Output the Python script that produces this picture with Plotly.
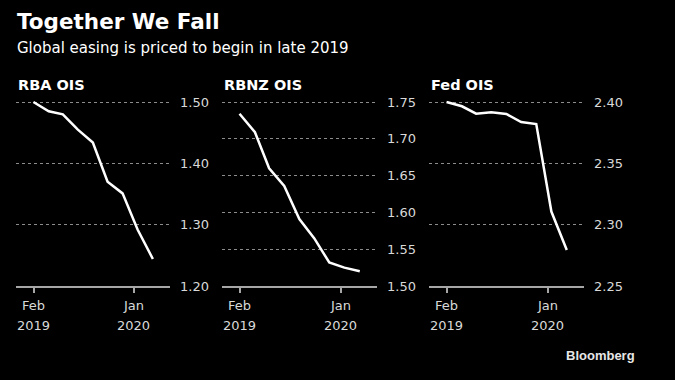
import plotly.graph_objects as go

# ---- data ----
dates = ["2019-01-31", "2019-03-23", "2019-05-09", "2019-06-28", "2019-08-17",
         "2019-10-05", "2019-11-24", "2020-01-13", "2020-03-04"]
rba = [1.500, 1.485, 1.480, 1.455, 1.434, 1.370, 1.351, 1.292, 1.244]
rbnz = [1.734, 1.709, 1.660, 1.636, 1.591, 1.565, 1.532, 1.525, 1.520]
fed = [2.400, 2.3965, 2.3905, 2.3916, 2.3902, 2.3837, 2.382, 2.3107, 2.2794]

panel_titles = ["RBA OIS", "RBNZ OIS", "Fed OIS"]
rba_ticks = [1.20, 1.30, 1.40, 1.50]
rbnz_ticks = [1.50, 1.55, 1.60, 1.65, 1.70, 1.75]
fed_ticks = [2.25, 2.30, 2.35, 2.40]
x_tickvals = ["2019-02-01", "2020-01-01"]
x_month_labels = ["Feb", "Jan"]
x_year_labels = ["2019", "2020"]

series = [rba, rbnz, fed]
yticks = [rba_ticks, rbnz_ticks, fed_ticks]

W, H = 675, 380
FONT = "DejaVu Sans"
x_doms_px = [(16, 170), (222, 377), (429, 584)]
y_top_px, y_bot_px = 102, 286
plot_h = y_bot_px - y_top_px
EXTRA_PX = 1.5  # small headroom so the top gridline is drawn
ydom = [(H - y_bot_px) / H, (H - y_top_px + EXTRA_PX) / H]
xrange_ = ["2018-12-04", "2020-04-30"]

fig = go.Figure()
layout = dict(
    width=W, height=H,
    paper_bgcolor="#000000", plot_bgcolor="#000000",
    margin=dict(l=0, r=0, t=0, b=0),
    showlegend=False,
    font=dict(family=FONT, color="#d9d9d9", size=13),
)
annotations = []
for i in range(3):
    sfx = "" if i == 0 else str(i + 1)
    fig.add_trace(go.Scatter(
        x=dates, y=series[i], mode="lines",
        line=dict(color="#ffffff", width=2.5),
        xaxis="x" + sfx, yaxis="y" + sfx, cliponaxis=False,
        hoverinfo="skip",
    ))
    x0, x1 = x_doms_px[i]
    layout["xaxis" + sfx] = dict(
        domain=[x0 / W, x1 / W], range=xrange_, type="date",
        anchor="y" + sfx,
        showgrid=False, zeroline=False,
        showline=True, linecolor="#a6a6a6", linewidth=1.5,
        ticks="outside", ticklen=5, tickwidth=1.5, tickcolor="#a6a6a6",
        tickvals=x_tickvals, showticklabels=False,
        fixedrange=True,
    )
    yt = yticks[i]
    span = yt[-1] - yt[0]
    layout["yaxis" + sfx] = dict(
        domain=ydom, range=[yt[0], yt[-1] + span * EXTRA_PX / plot_h],
        anchor="x" + sfx,
        side="right", tickvals=yt, tickformat=".2f",
        showgrid=True, gridcolor="#8c8c8c", gridwidth=1, griddash="dot",
        zeroline=False, showline=False, ticks="",
        ticklabelstandoff=9,
        tickfont=dict(family=FONT, size=13, color="#d9d9d9"),
        automargin=False, fixedrange=True,
    )
    xr = "x" + sfx
    for tv, m, yr in zip(x_tickvals, x_month_labels, x_year_labels):
        annotations.append(dict(x=tv, xref=xr, y=(H - 305) / H, yref="paper",
                                text=m, showarrow=False, xanchor="center",
                                yanchor="middle",
                                font=dict(family=FONT, size=13, color="#d9d9d9")))
        annotations.append(dict(x=tv, xref=xr, y=(H - 325) / H, yref="paper",
                                text=yr, showarrow=False, xanchor="center",
                                yanchor="middle",
                                font=dict(family=FONT, size=13, color="#d9d9d9")))
    annotations.append(dict(x=x0 / W, xref="paper", y=(H - 85) / H, yref="paper",
                            text="<b>" + panel_titles[i] + "</b>", showarrow=False,
                            xanchor="left", yanchor="middle",
                            font=dict(family=FONT, size=14.5, color="#ffffff")))

annotations.append(dict(x=15 / W, xref="paper", y=(H - 22) / H, yref="paper",
                        text="<b>Together We Fall</b>", showarrow=False,
                        xanchor="left", yanchor="middle",
                        font=dict(family=FONT, size=21.5, color="#ffffff")))
annotations.append(dict(x=15 / W, xref="paper", y=(H - 48) / H, yref="paper",
                        text="Global easing is priced to begin in late 2019",
                        showarrow=False, xanchor="left", yanchor="middle",
                        font=dict(family=FONT, size=15, color="#ffffff")))
annotations.append(dict(x=637 / W, xref="paper", y=(H - 355) / H, yref="paper",
                        text="<b>Bloomberg</b>", showarrow=False,
                        xanchor="right", yanchor="middle",
                        font=dict(family="Liberation Sans", size=13, color="#e6e6e6")))
layout["annotations"] = annotations
fig.update_layout(**layout)
fig.write_html("out.html", config={"displayModeBar": False},
               post_script="document.body.style.margin='0';"
                           "document.body.style.background='#000';")
